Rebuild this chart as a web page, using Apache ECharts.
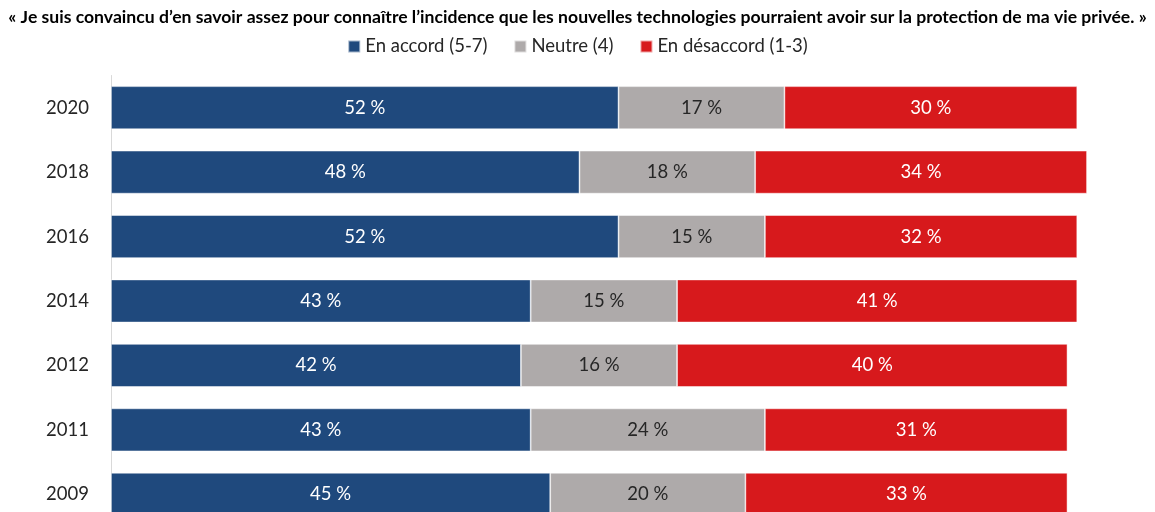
<!DOCTYPE html>
<html><head><meta charset="utf-8">
<script src="https://cdn.jsdelivr.net/npm/echarts@6/dist/echarts.min.js"></script>
<style>html,body{margin:0;padding:0;background:#fff;overflow:hidden}#c{width:1155px;height:530px}</style>
</head><body><div id="c"></div>
<script>
const titleText = "« Je suis convaincu d’en savoir assez pour connaître l’incidence que les nouvelles technologies pourraient avoir sur la protection de ma vie privée. »";
const years = ["2020", "2018", "2016", "2014", "2012", "2011", "2009"];
const seriesNames = ["En accord (5-7)", "Neutre (4)", "En désaccord (1-3)"];
const accord = [52, 48, 52, 43, 42, 43, 45];
const neutre = [17, 18, 15, 15, 16, 24, 20];
const desaccord = [30, 34, 32, 41, 40, 31, 33];
const colors = ["#1F497D", "#AEAAAA", "#D7191C"];
const labelColors = ["#ffffff", "#262626", "#ffffff"];

const FONT = "Lato";
const chart = echarts.init(document.getElementById('c'), null, {renderer: 'canvas'});
const values = [accord, neutre, desaccord];
chart.setOption({
  animation: false,
  title: {
    text: titleText, left: 'center', top: 3,
    textStyle: {fontFamily: FONT, fontSize: 17.6, fontWeight: 'bold', color: '#000'}
  },
  legend: {
    top: 32, left: 'center', itemWidth: 12, itemHeight: 12, itemGap: 26,
    icon: 'rect',
    textStyle: {fontFamily: FONT, fontSize: 18.5, color: '#262626'},
    data: seriesNames
  },
  grid: {left: 111, right: 68, top: 75.5, height: 451, containLabel: false},
  xAxis: {type: 'value', min: 0, max: 100, show: false},
  yAxis: {
    type: 'category', data: years, inverse: true,
    axisLine: {show: true, lineStyle: {color: '#D9D9D9', width: 1}},
    axisTick: {show: false},
    axisLabel: {fontFamily: FONT, fontSize: 18.5, color: '#262626', margin: 22}
  },
  series: seriesNames.map((n, i) => ({
    name: n, type: 'bar', stack: 'total', barWidth: 43,
    data: values[i],
    itemStyle: {color: colors[i], borderColor: 'rgba(255,255,255,0.6)', borderWidth: 0.8},
    label: {
      show: true, position: 'inside', formatter: p => p.value + ' %',
      fontFamily: FONT, fontSize: 18.5, color: labelColors[i]
    }
  }))
});
</script></body></html>
